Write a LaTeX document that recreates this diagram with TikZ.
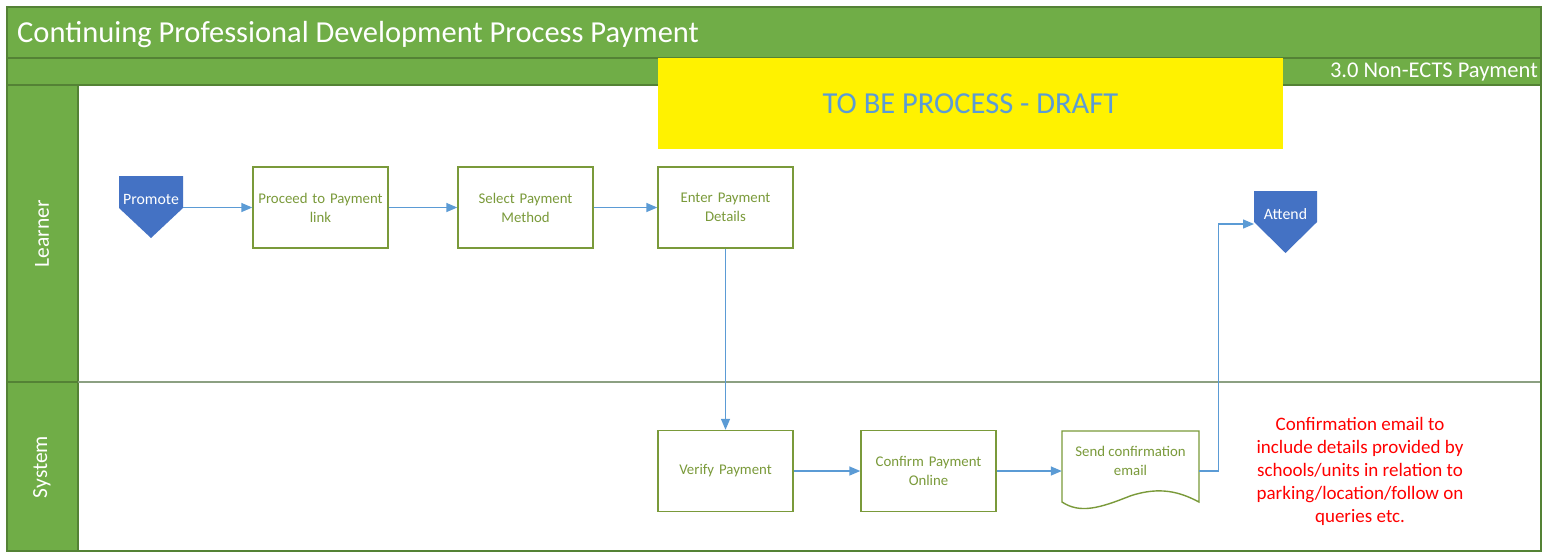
\documentclass[tikz,border=0pt]{standalone}
\usepackage{fontspec}
\setmainfont{Carlito}
\usetikzlibrary{arrows.meta}
\definecolor{lanegreen}{RGB}{112,173,71}
\definecolor{darkgreen}{RGB}{84,130,53}
\definecolor{boxgreen}{RGB}{122,154,58}
\definecolor{arrowblue}{RGB}{91,155,213}
\definecolor{shapeblue}{RGB}{68,114,196}
\definecolor{sepline}{RGB}{140,160,130}
\definecolor{drafttext}{RGB}{91,155,213}
\begin{document}
\begin{tikzpicture}[x=1pt,y=-1pt,
  bar/.style={fill=lanegreen,draw=darkgreen,line width=1.2pt},
  procbox/.style={draw=boxgreen,line width=1.4pt,fill=white,minimum width=135pt,minimum height=81pt,
    text=boxgreen,align=center,text width=132pt,font=\fontsize{14.8}{19}\selectfont,inner sep=0pt},
  termtext/.style={text=white,font=\fontsize{15.8}{18}\selectfont,inner sep=0pt},
  arr/.style={draw=arrowblue,line width=1.4pt,-{Triangle[length=11pt,width=9pt]}},
  lanelabel/.style={text=white,rotate=90,font=\fontsize{21.5}{24}\selectfont}
]
\useasboundingbox (0,0) rectangle (1546,552);
% frame
\fill[white] (78,85) rectangle (1541,551);
\draw[bar] (7,7) rectangle (1541,58);
\draw[bar] (7,58) rectangle (1541,85);
\draw[bar] (7,85) rectangle (78,382);
\draw[bar] (7,382) rectangle (78,551);
\draw[sepline,line width=1.2pt] (78,382) -- (1541,382);
\draw[darkgreen,line width=1.2pt] (78,551) -- (1541,551) -- (1541,85);
\node[anchor=west,text=white,font=\fontsize{30.5}{34}\selectfont,inner sep=0pt] (title) at (17,34.5) {Continuing Professional Development Process Payment};
\node[anchor=east,text=white,font=\fontsize{22.5}{26}\selectfont,inner sep=0pt] (sub) at (1538,72.5) {3.0 Non-ECTS Payment};
\node[lanelabel] (learner) at (42,234) {Learner};
\node[lanelabel] (system) at (42,467) {System};
% draft banner
\fill[yellow] (658,58) rectangle (1283,149);
\node[text=drafttext,font=\fontsize{30.5}{34}\selectfont,inner sep=0pt] (draft) at (970.5,104) {TO BE PROCESS - DRAFT};
% promote
\fill[shapeblue] (119,176) -- (183,176) -- (183,208) -- (151,238) -- (119,208) -- cycle;
\node[termtext] (promote) at (151,199) {Promote};
\coordinate (promoteR) at (183,207.5);
% attend
\fill[shapeblue] (1254,191) -- (1317,191) -- (1317,222) -- (1285.5,253) -- (1254,222) -- cycle;
\node[termtext] (attend) at (1285.5,214) {Attend};
\coordinate (attendL) at (1254,224);
% process boxes
\node[procbox] (proceed) at (320.5,207.5) {Proceed to Payment\\link};
\node[procbox] (select) at (525.5,207.5) {Select Payment\\Method};
\node[procbox] (enter) at (725.5,207.5) {Enter Payment\\Details};
\node[procbox] (verify) at (725.5,471) {Verify Payment};
\node[procbox] (confirm) at (928.5,471) {Confirm Payment\\Online};
% document shape
\node[minimum width=137pt,minimum height=80pt,inner sep=0pt] (send) at (1130.5,471) {};
\draw[draw=boxgreen,line width=1.4pt,fill=white] (1062,431) -- (1199,431) -- (1199,502)
  .. controls (1180,492) and (1160,486) .. (1130,496)
  .. controls (1100,508) and (1080,514) .. (1062,502) -- cycle;
\node[text=boxgreen,align=center,font=\fontsize{14.8}{19}\selectfont,inner sep=0pt] (sendtext) at (1130.5,461) {Send confirmation\\email};
% note
\node[text=red,align=center,font=\fontsize{19}{23}\selectfont,inner sep=0pt] (note) at (1360,471) {Confirmation email to\\include details provided by\\schools/units in relation to\\parking/location/follow on\\queries etc.};
% connectors
\draw[arr] (promoteR) -- (proceed.west);
\draw[arr] (proceed.east) -- (select.west);
\draw[arr] (select.east) -- (enter.west);
\draw[arr] (enter.south) -- (verify.north);
\draw[arr] (verify.east) -- (confirm.west);
\draw[arr] (confirm.east) -- (send.west);
\draw[arr] (send.east) -- ++(19,0) |- (attendL);
\end{tikzpicture}
\end{document}
